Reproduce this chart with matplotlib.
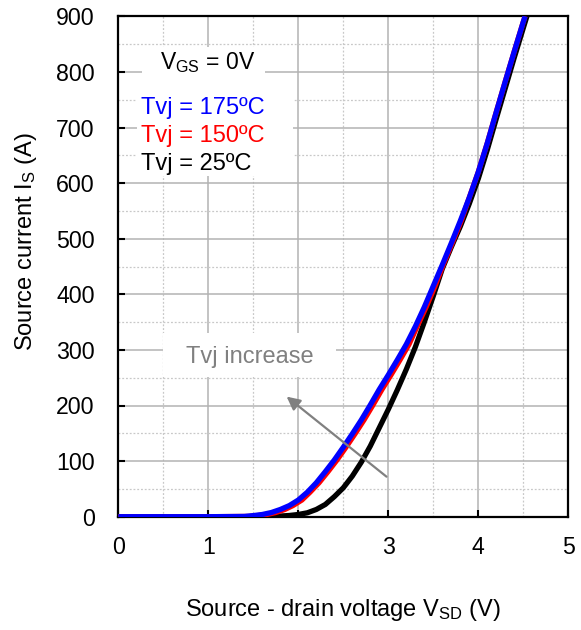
import matplotlib
matplotlib.use("Agg")
import matplotlib.pyplot as plt
from matplotlib.patches import Rectangle
from matplotlib.ticker import MultipleLocator

plt.rcParams["font.family"] = ["Liberation Sans", "DejaVu Sans"]
plt.rcParams["mathtext.fontset"] = "custom"
plt.rcParams["mathtext.rm"] = "Liberation Sans"
plt.rcParams["mathtext.it"] = "Liberation Sans"

# Source-drain (body diode) characteristics, VGS = 0 V
v_175 = [0, 1.0, 1.4, 1.5, 1.6, 1.7, 1.8, 1.9, 2.0, 2.1, 2.2, 2.3, 2.4, 2.5,
         2.6, 2.7, 2.8, 2.9, 3.0, 3.1, 3.2, 3.3, 3.4, 3.5, 3.6, 3.7, 3.8,
         3.9, 4.0, 4.1, 4.2, 4.3, 4.4, 4.5, 4.52]
i_175 = [0, 0, 0.5, 2, 4, 7.5, 13, 20, 30, 44, 61, 81, 102, 125,
         149, 174, 201, 229, 255, 282, 310, 342, 377, 415, 453, 492, 532,
         574, 620, 672, 728, 783, 837, 890, 900]

v_150 = [0, 1.0, 1.45, 1.55, 1.65, 1.75, 1.85, 1.94, 2.04, 2.13, 2.23, 2.33,
         2.43, 2.53, 2.63, 2.73, 2.83, 2.93, 3.03, 3.13, 3.23, 3.32, 3.42,
         3.52, 3.61, 3.71, 3.81, 3.9, 4.0, 4.1, 4.2, 4.3, 4.4, 4.5, 4.52]
i_150 = [0, 0, 0.5, 2, 4, 7.5, 13, 20, 30, 44, 61, 81,
         102, 125, 149, 174, 201, 229, 255, 282, 310, 342, 377,
         415, 453, 492, 532, 574, 620, 672, 728, 783, 837, 890, 900]

v_25 = [0, 1.6, 1.7, 1.8, 1.9, 2.0, 2.1, 2.2, 2.3, 2.4, 2.5, 2.6, 2.7, 2.8,
        2.9, 3.0, 3.1, 3.2, 3.3, 3.4, 3.5, 3.6, 3.7, 3.8, 3.9, 4.0, 4.1,
        4.2, 4.3, 4.4, 4.5, 4.54]
i_25 = [0, 0, 0.5, 1.2, 2.2, 4, 7, 13, 22, 36, 52, 73, 98, 127,
        160, 193, 228, 265, 305, 350, 397, 446, 485, 522, 563, 608, 660,
        716, 771, 826, 879, 900]

x_ticks = [0, 1, 2, 3, 4, 5]
y_ticks = [0, 100, 200, 300, 400, 500, 600, 700, 800, 900]

FS = 17

fig = plt.figure(figsize=(5.81, 6.30), dpi=100)
ax = fig.add_axes([118.3 / 581, 113.3 / 630, 450 / 581, 500.4 / 630])

ax.set_xlim(0, 5)
ax.set_ylim(0, 900)
ax.set_xticks(x_ticks)
ax.set_yticks(y_ticks)
ax.xaxis.set_minor_locator(MultipleLocator(0.5))
ax.yaxis.set_minor_locator(MultipleLocator(50))

ax.grid(which="major", color="#b3b3b3", linewidth=1.1, linestyle="-")
ax.grid(which="minor", color="#c8c8c8", linewidth=0.9, linestyle=(0, (1.5, 1.5)))
ax.set_axisbelow(True)

for s in ax.spines.values():
    s.set_linewidth(1.6)
    s.set_color("black")

ax.tick_params(which="major", direction="in", length=5, width=1.5,
               labelsize=16.7, top=False, right=False)
ax.tick_params(axis="x", which="major", pad=14)
ax.tick_params(axis="y", which="major", pad=17)
ax.tick_params(which="minor", length=0)

ax.plot(v_25, i_25, color="black", linewidth=3.8, solid_capstyle="butt",
        solid_joinstyle="round", zorder=3)
ax.plot(v_150, i_150, color="#ff0000", linewidth=3.8, solid_capstyle="butt",
        solid_joinstyle="round", zorder=4)
ax.plot(v_175, i_175, color="#0000ff", linewidth=3.8, solid_capstyle="butt",
        solid_joinstyle="round", zorder=5)

ax.set_xlabel("Source - drain voltage V$_{\\rm SD}$ (V)", fontsize=FS)
ax.xaxis.set_label_coords(0.5, -0.1865)
ax.xaxis.label.set_va("center")
ax.set_ylabel("Source current I$_{\\rm S}$ (A)", fontsize=FS)
ax.yaxis.set_label_coords(-0.205, 0.549)
ax.yaxis.label.set_va("center")

# white panels behind the annotations
for x0, x1, y0, y1 in [(0.26, 1.63, 760, 845),
                       (0.21, 1.94, 612, 762),
                       (0.50, 2.42, 251, 330)]:
    ax.add_patch(Rectangle((x0, y0), x1 - x0, y1 - y0, facecolor="white",
                           edgecolor="none", zorder=2))

ax.text(0.99, 816, "V$_{\\rm GS}$ = 0V", fontsize=16.5, ha="center",
        va="center", zorder=7)
ax.text(0.25, 735, "Tvj = 175ºC", fontsize=FS, color="#0000ff",
        ha="left", va="center", zorder=7)
ax.text(0.25, 685, "Tvj = 150ºC", fontsize=FS, color="#ff0000",
        ha="left", va="center", zorder=7)
ax.text(0.25, 634, "Tvj = 25ºC", fontsize=FS, color="black",
        ha="left", va="center", zorder=7)

ax.text(1.46, 288, "Tvj increase", fontsize=FS, color="#808080",
        ha="center", va="center", zorder=7)

ax.annotate("", xy=(1.87, 216), xytext=(2.98, 72),
            arrowprops=dict(arrowstyle="-|>,head_length=0.8,head_width=0.4",
                            color="#808080", linewidth=1.6,
                            shrinkA=0, shrinkB=0),
            zorder=6)

fig.savefig("out.png", dpi=100)
